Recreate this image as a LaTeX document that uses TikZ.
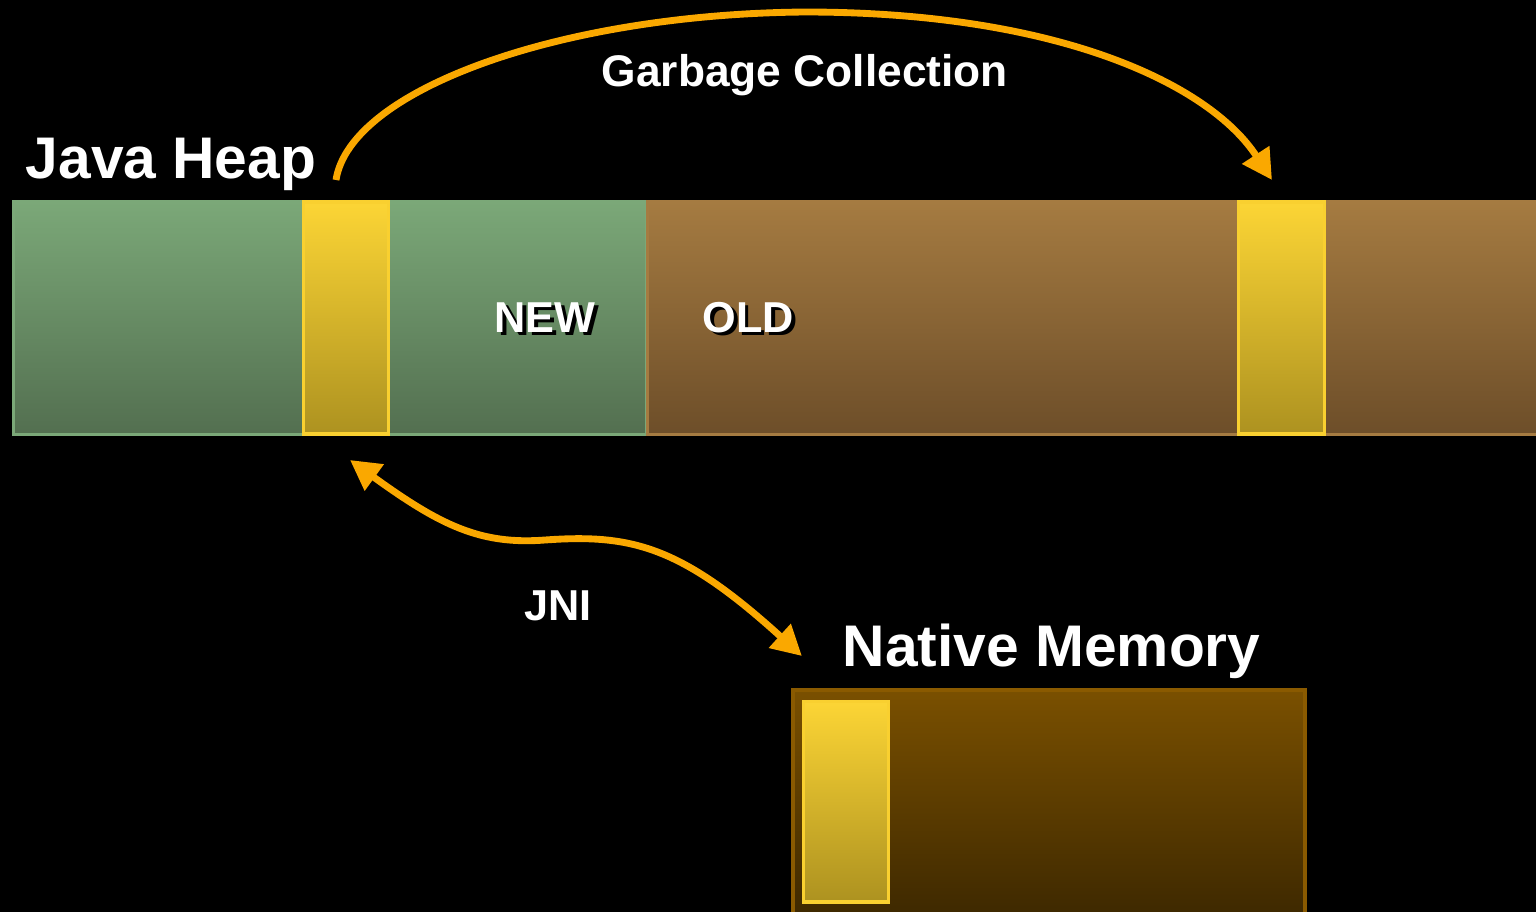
\documentclass[tikz,border=0pt]{standalone}
\usepackage{fontspec}
\setmainfont{Liberation Sans}
\usetikzlibrary{arrows.meta,positioning}
\definecolor{gcorange}{RGB}{250,168,0}
\definecolor{newtop}{RGB}{123,168,120}
\definecolor{newbot}{RGB}{83,111,80}
\definecolor{oldtop}{RGB}{165,123,65}
\definecolor{oldbot}{RGB}{109,78,41}
\definecolor{objtop}{RGB}{252,213,53}
\definecolor{objbot}{RGB}{173,146,32}
\definecolor{objedge}{RGB}{249,208,48}
\definecolor{nattop}{RGB}{122,80,0}
\definecolor{natbot}{RGB}{61,40,0}
\definecolor{natedge}{RGB}{138,90,0}
\newcommand{\shadowed}[1]{\makebox[0pt][l]{\hspace{1pt}\raisebox{-1pt}{\color{black}#1}}#1}

\begin{document}
\begin{tikzpicture}[x=0.01cm, y=-0.01cm,
  >={Triangle[length=0.3cm,width=0.31cm]},
  region/.style={rectangle, inner sep=0pt, line width=0.85pt, minimum height=2.33cm},
  newgen/.style={region, draw=newtop, top color=newtop, bottom color=newbot},
  oldgen/.style={region, draw=oldtop, top color=oldtop, bottom color=oldbot},
  obj/.style={rectangle, inner sep=0pt, line width=1.1pt, draw=objedge, top color=objtop, bottom color=objbot},
  title/.style={text=white, inner sep=0pt, font=\bfseries\fontsize{16.7}{20}\selectfont},
  tag/.style={text=white, inner sep=0pt, font=\bfseries\fontsize{12.3}{15}\selectfont},
  flow/.style={draw=gcorange, line width=1.95pt}]
  \fill[black] (0,0) rectangle (1536,912);
  \clip (0,0) rectangle (1536,912);

  % Java heap: young and old generation
  \node[newgen, minimum width=6.33cm] (young) at (330,318) {};
  \node[oldgen, minimum width=8.97cm] (old) at (1096.5,318) {};
  \node[obj, minimum width=0.85cm, minimum height=2.32cm] (obj1) at (346,318) {};
  \node[obj, minimum width=0.86cm, minimum height=2.32cm] (obj2) at (1281.5,318) {};

  \node[title, anchor=base west] (heap) at (25,178) {Java Heap};
  \node[tag, anchor=base west] (newlbl) at (494,332) {\shadowed{NEW}};
  \node[tag, anchor=base west] (oldlbl) at (702,332) {\shadowed{OLD}};

  % Native memory below
  \node[rectangle, inner sep=0pt, line width=1.1pt, draw=natedge, top color=nattop, bottom color=natbot,
        minimum width=5.12cm, minimum height=2.29cm] (native) at (1049,804.5) {};
  \node[obj, minimum width=0.85cm, minimum height=2.0cm] (obj3) at (846,801.5) {};
  \node[title, anchor=base west] (memlbl) at (842,666) {Native Memory};

  % Promotion by the collector
  \node[tag, anchor=base west, font=\bfseries\fontsize{12.6}{15}\selectfont] (gclbl) at (601,87) {Garbage Collection};
  \draw[flow, ->] ([shift={(-10,-20)}]obj1.north)
    .. controls (350,90) and (560,14) .. (805,12)
    .. controls (1060,12) and (1210,85) .. ([shift={(-9.5,-20)}]obj2.north);

  % JNI link
  \node[tag, anchor=base west] (jnilbl) at (524,620) {JNI};
  \draw[flow, <->] ([shift={(4,24)}]obj1.south)
    .. controls (440,525) and (480,545) .. (545,540)
    .. controls (630,534) and (680,545) .. ([shift={(11,-32)}]native.north west);
\end{tikzpicture}
\end{document}
